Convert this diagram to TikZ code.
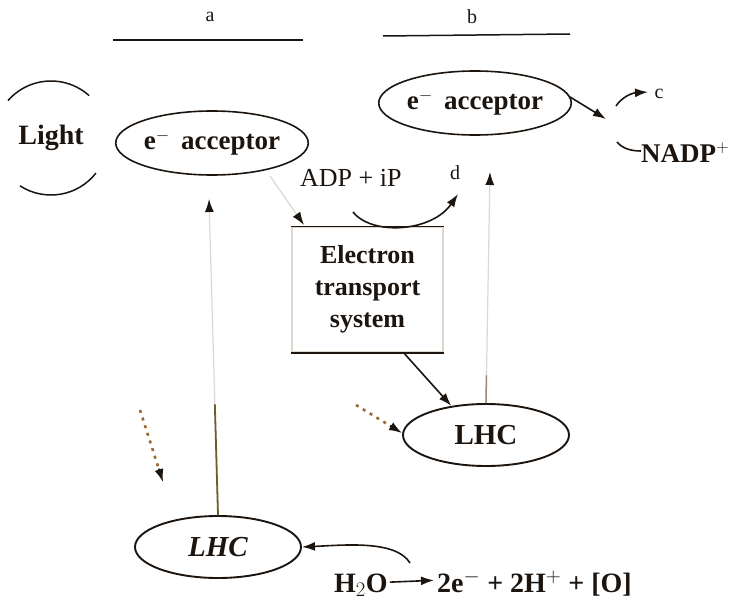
\documentclass[tikz,border=0pt]{standalone}
\usepackage{fontspec}
\setmainfont{Liberation Serif}
\usetikzlibrary{arrows.meta,shapes.geometric,calc}

\definecolor{ink}{HTML}{1C140E}
\definecolor{faded}{HTML}{DDD7CD}
\definecolor{olive}{HTML}{6E5C2C}
\definecolor{rust}{HTML}{9A6A30}

\tikzset{
  every node/.style={inner sep=0pt, text=ink},
  ell/.style={ellipse, draw=ink, line width=1.6pt, minimum width=178pt, minimum height=64pt},
  lhc/.style={ellipse, draw=ink, line width=1.9pt, minimum width=166pt, minimum height=62pt,
              font=\fontsize{29}{32}\selectfont\bfseries},
  big/.style={font=\fontsize{28}{32}\selectfont\bfseries},
  accfont/.style={font=\fontsize{27}{30}\selectfont\bfseries},
  mid/.style={font=\fontsize{26}{29}\selectfont},
  small/.style={font=\fontsize{20}{24}\selectfont},
  conn/.style={draw=ink, line width=1.6pt},
  tip/.style={-{Latex[length=13pt,width=9pt,color=ink]}},
  fadedconn/.style={draw=faded, line width=1.2pt},
  lightray/.style={draw=rust, line width=2.6pt, dash pattern=on 3pt off 5pt},
}

\begin{document}
\begin{tikzpicture}[x=1pt,y=-1pt]
\useasboundingbox (0,0) rectangle (731,602);

% headings over the two photosystems
\node[small] (la) at (210,17) {a};
\draw[ink, line width=1.5pt] (113,40) -- (303,40);
\node[small] (lb) at (472,17) {b};
\draw[ink, line width=1.5pt] (383,36) -- (570,34);

% light source
\node[big] (light) at (51,138) {Light};
\draw[ink, line width=1.5pt] ($(light.center)+(-48:57)$) arc[start angle=-48, end angle=-139, radius=57];
\draw[ink, line width=1.5pt] ($(light.center)+(-237:57)$) arc[start angle=-237, end angle=-322, radius=57];

% electron acceptors
\node[ell, accfont] (accA) at (212,143) {e$^{-}$\,\ acceptor};
\node[ell, accfont] (accB) at (475,103) {e$^{-}$\,\ acceptor};

% light harvesting complexes
\node[lhc, font=\fontsize{29}{32}\selectfont\bfseries\itshape] (lhcA) at (218,547) {LHC};
\node[lhc] (lhcB) at (486,435) {LHC};

% electron transport system
\node[draw=faded, line width=1.2pt, minimum width=151pt, minimum height=125pt,
      align=center, font=\fontsize{26}{32}\selectfont\bfseries] (ets) at (367.5,289.5)
      {Electron\\transport\\system};
\draw[ink, line width=1.8pt] (ets.north west) -- (ets.north east);
\draw[ink, line width=1.8pt] (ets.south west) -- (ets.south east);

% photophosphorylation labels
\node[mid, anchor=base west] (adp) at (300,186) {ADP + iP};
\node[small] (d) at (455,173) {d};
\node[small] (c) at (659,94) {c};
\node[font=\fontsize{27}{30}\selectfont\bfseries, anchor=base west] (nadp) at (641,162) {NADP$^{+}$};

% water splitting
\node[font=\fontsize{28}{32}\selectfont\bfseries, anchor=base west] (h2o) at (334,592) {H$_2$O};
\node[font=\fontsize{28}{32}\selectfont\bfseries, anchor=base west] (prod) at (437,592) {2e$^{-}$ + 2H$^{+}$ + [O]};

% helper points for open connector ends
\coordinate (tipA) at (209,199);
\coordinate (tipB) at (490,172);
\coordinate (etsin) at (304,225);
\coordinate (etsfrom) at (270,176);
\coordinate (nadpin) at (606,119);
\coordinate (rayA) at (140,410);
\coordinate (rayAend) at (163,482);
\coordinate (rayB) at (356,405);
\coordinate (rayBend) at (402,433);
\coordinate (wsrc) at (410,563);
\coordinate (adpsrc) at (353,212);
\coordinate (dtip) at (458,194);
\coordinate (cstart) at (616,106);
\coordinate (ctip) at (648,92);
\coordinate (nstart) at (617,142);
\coordinate (nend) at (641,151);

% electron flow from LHC (a) to its acceptor
\draw[fadedconn, tip] (lhcA.north) -- (tipA);
\draw[draw=olive, line width=1.8pt] (lhcA.north) -- ($(lhcA.north)!0.35!(tipA)$);

% electron flow from LHC (b) to its acceptor
\draw[fadedconn, tip] (lhcB.north) -- (tipB);
\draw[draw=olive!70, line width=1.5pt] (lhcB.north) -- ($(lhcB.north)!0.12!(tipB)$);

% acceptor (a) into the transport chain
\draw[fadedconn, tip] (etsfrom) -- (etsin);

% transport chain to LHC (b)
\draw[conn, tip] ($(ets.south)+(36,0)$) -- (lhcB.140);

% ATP formation
\draw[conn, tip] (adpsrc) .. controls (372,236) and (432,232) .. (dtip);

% acceptor (b) to NADP
\draw[conn, tip] ($(accB.east)+(-2,-6)$) -- (nadpin);
\draw[conn, tip] (cstart) .. controls (622,97) and (632,93) .. (ctip);
\draw[conn] (nstart) .. controls (622,148) and (630,151) .. (nend);

% incoming light
\draw[lightray] (rayA) -- ($(rayAend)!10pt!(rayA)$);
\draw[tip, ink, line width=1.6pt] ($(rayAend)!14pt!(rayA)$) -- (rayAend);
\draw[lightray] (rayB) -- ($(rayBend)!10pt!(rayB)$);
\draw[tip, ink, line width=1.6pt] ($(rayBend)!14pt!(rayB)$) -- (rayBend);

% water splitting feeds LHC (a)
\draw[conn, tip] (wsrc) .. controls (396,540) and (345,545) .. (lhcA.east);
\draw[conn, tip] ($(h2o.east)+(2,-3)$) -- ($(prod.west)+(-3,-3)$);
\end{tikzpicture}
\end{document}
